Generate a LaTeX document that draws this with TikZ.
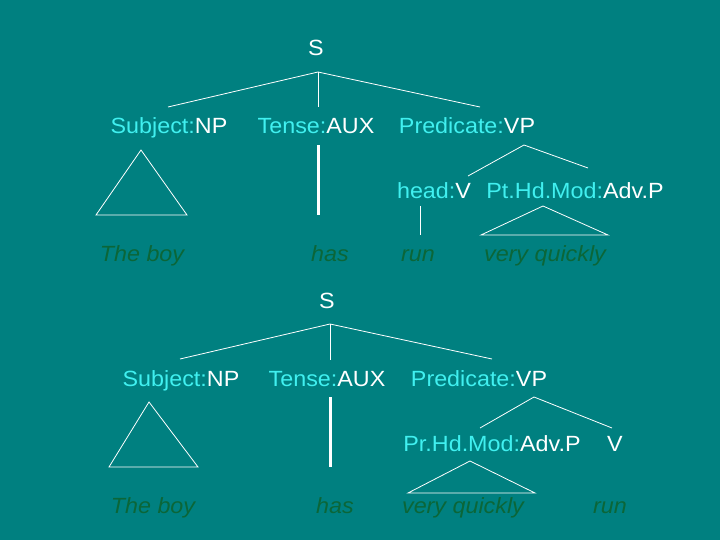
\documentclass[tikz,border=0pt]{standalone}
\usepackage{fontspec}
\setmainfont{Liberation Sans}[FakeStretch=1.06]
\definecolor{bg}{HTML}{008080}
\definecolor{fn}{HTML}{40F0F0}
\definecolor{wd}{HTML}{0B6638}
\begin{document}
\begin{tikzpicture}[x=1pt,y=-1pt,
  lbl/.style={text=white,font=\fontsize{22}{26}\selectfont,inner sep=0pt,anchor=base},
  word/.style={text=wd,font=\fontsize{22}{26}\selectfont\itshape,inner sep=0pt,anchor=base},
  br/.style={draw=white,line width=0.8pt},
  auxline/.style={draw=white,line width=3pt}]
\fill[bg] (0,0) rectangle (720,540);
\useasboundingbox (0,0) rectangle (720,540);
\newcommand{\fnc}[1]{\textcolor{fn}{#1}}
% ---------- tree 1 ----------
\node[lbl] (s1) at (316,56) {S};
\coordinate (s1t) at (318,72);
\coordinate (a1) at (168,107);
\coordinate (b1) at (318,107);
\coordinate (c1) at (480,107);
\draw[br] (a1) -- (s1t) -- (c1);
\draw[br] (s1t) -- (b1);
\node[lbl] (subj1) at (169,134) {\fnc{Subject:}NP};
\node[lbl] (tense1) at (316,134) {\fnc{Tense:}AUX};
\node[lbl] (pred1) at (467,134) {\fnc{Predicate:}VP};
\coordinate (t1a) at (141,150);
\coordinate (t1b) at (96,215);
\coordinate (t1c) at (187,215);
\draw[br] (t1a) -- (t1b) -- (t1c) -- cycle;
\coordinate (x1a) at (318,145);
\coordinate (x1b) at (318,215);
\draw[auxline] (x1a) -- (x1b);
\coordinate (v1t) at (524,145);
\coordinate (v1l) at (468,176);
\coordinate (v1r) at (588,168);
\draw[br] (v1l) -- (v1t) -- (v1r);
\node[lbl] (head1) at (434,199) {\fnc{head:}V};
\node[lbl] (mod1) at (575,199) {\fnc{Pt.Hd.Mod:}Adv.P};
\coordinate (r1a) at (420,206);
\coordinate (r1b) at (420,235);
\draw[br] (r1a) -- (r1b);
\coordinate (q1a) at (543,206);
\coordinate (q1b) at (481,235);
\coordinate (q1c) at (608,235);
\draw[br] (q1a) -- (q1b) -- (q1c) -- cycle;
\node[word] (boy1) at (142,261) {The boy};
\node[word] (has1) at (330,261) {has};
\node[word] (run1) at (418,261) {run};
\node[word] (vq1) at (545,261) {very quickly};
% ---------- tree 2 ----------
\node[lbl] (s2) at (327,308) {S};
\coordinate (s2t) at (330,324);
\coordinate (a2) at (180,359);
\coordinate (b2) at (330,360);
\coordinate (c2) at (492,359);
\draw[br] (a2) -- (s2t) -- (c2);
\draw[br] (s2t) -- (b2);
\node[lbl] (subj2) at (181,386) {\fnc{Subject:}NP};
\node[lbl] (tense2) at (327,386) {\fnc{Tense:}AUX};
\node[lbl] (pred2) at (479,386) {\fnc{Predicate:}VP};
\coordinate (t2a) at (149,402);
\coordinate (t2b) at (109,467);
\coordinate (t2c) at (198,467);
\draw[br] (t2a) -- (t2b) -- (t2c) -- cycle;
\coordinate (x2a) at (330,397);
\coordinate (x2b) at (330,467);
\draw[auxline] (x2a) -- (x2b);
\coordinate (v2t) at (534,397);
\coordinate (v2l) at (480,428);
\coordinate (v2r) at (612,428);
\draw[br] (v2l) -- (v2t) -- (v2r);
\node[lbl] (mod2) at (492,451) {\fnc{Pr.Hd.Mod:}Adv.P};
\node[lbl] (v2) at (615,451) {V};
\coordinate (q2a) at (470,461);
\coordinate (q2b) at (408,493);
\coordinate (q2c) at (535,493);
\draw[br] (q2a) -- (q2b) -- (q2c) -- cycle;
\node[word] (boy2) at (153,513) {The boy};
\node[word] (has2) at (335,513) {has};
\node[word] (vq2) at (463,513) {very quickly};
\node[word] (run2) at (610,513) {run};
\end{tikzpicture}
\end{document}
